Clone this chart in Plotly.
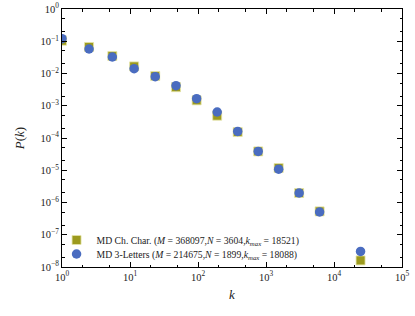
import plotly.graph_objects as go

k_bins = [1, 2.5, 5.5, 11.5, 23.5, 47.5, 95.5, 191.5, 383.5, 767.5, 1535.5, 3071.5, 6143.5, 24575.5]
p_char = [0.104, 0.0664, 0.0349, 0.0166, 0.00836, 0.00376, 0.00147, 4.92e-4, 1.53e-4,
          3.84e-5, 1.17e-5, 1.97e-6, 5.3e-7, 1.60e-8]
p_3let = [0.120, 0.0575, 0.0325, 0.0141, 0.00796, 0.00419, 0.00166, 6.4e-4, 1.60e-4,
          3.84e-5, 1.08e-5, 1.97e-6, 5.07e-7, 3.05e-8]
name_char = "MD Ch. Char. (<i>M</i> = 368097,<i>N</i> = 3604,<i>k<sub>max</sub></i> = 18521)"
name_3let = "MD 3-Letters (<i>M</i> = 214675,<i>N</i> = 1899,<i>k<sub>max</sub></i> = 18088)"
x_ticks = [1, 10, 100, 1000, 10000, 100000]
x_ticktext = ["10<sup>0</sup>", "10<sup>1</sup>", "10<sup>2</sup>", "10<sup>3</sup>", "10<sup>4</sup>", "10<sup>5</sup>"]
y_ticks = [1, 1e-1, 1e-2, 1e-3, 1e-4, 1e-5, 1e-6, 1e-7, 1e-8]
y_ticktext = ["10<sup>0</sup>", "10<sup>−1</sup>", "10<sup>−2</sup>", "10<sup>−3</sup>", "10<sup>−4</sup>",
              "10<sup>−5</sup>", "10<sup>−6</sup>", "10<sup>−7</sup>", "10<sup>−8</sup>"]

FONT = "Liberation Serif"

fig = go.Figure()
fig.add_trace(go.Scatter(x=k_bins, y=p_char, mode="markers", name=name_char, legend="legend",
                         showlegend=True,
                         marker=dict(symbol="square", size=9, color="#9c9a1e",
                                     line=dict(color="#e6e4a8", width=0.8))))
fig.add_trace(go.Scatter(x=k_bins, y=p_3let, mode="markers", name=name_3let, legend="legend2",
                         showlegend=True,
                         marker=dict(symbol="circle", size=9.5, color="#4a6cc0",
                                     line=dict(width=0))))

axis_common = dict(type="log", showgrid=False, zeroline=False, showline=True, linecolor="black",
                   linewidth=1, mirror="allticks", ticks="inside", ticklen=5, tickcolor="black",
                   automargin=False,
                   tickfont=dict(family=FONT, size=10.5, color="#222"),
                   minor=dict(ticks="inside", ticklen=2.5, tickcolor="black", showgrid=False))

fig.update_xaxes(range=[0, 5], tickvals=x_ticks, ticktext=x_ticktext,
                 title=dict(text="<i>k</i>", font=dict(family=FONT, size=13, color="#222"), standoff=8),
                 **axis_common)
fig.update_yaxes(range=[-8, 0], tickvals=y_ticks, ticktext=y_ticktext,
                 title=dict(text="<i>P</i>(<i>k</i>)", font=dict(family=FONT, size=13, color="#222"), standoff=13),
                 **axis_common)

leg_common = dict(x=-0.016, xanchor="left", yanchor="middle", bgcolor="rgba(0,0,0,0)",
                  font=dict(family=FONT, size=9.7, color="#222"), itemwidth=30)

fig.update_layout(
    width=415, height=316,
    showlegend=True,
    margin=dict(l=62, r=13, t=9, b=49),
    plot_bgcolor="white", paper_bgcolor="white",
    font=dict(family=FONT, color="#222"),
    legend=dict(y=0.1047, **leg_common),
    legend2=dict(y=0.0504, **leg_common),
)

fig.write_html("out.html", config={"displayModeBar": False},
               post_script="document.body.style.margin='0';document.body.style.overflow='hidden';")
